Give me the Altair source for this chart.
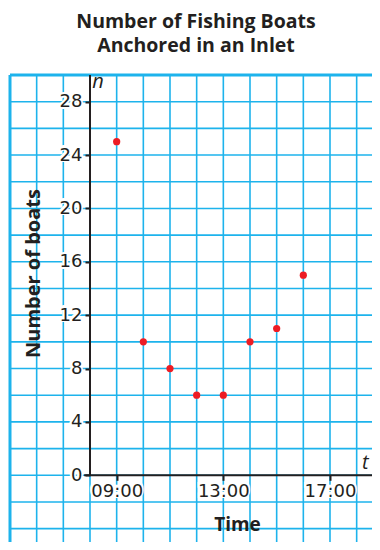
import altair as alt
import pandas as pd

# Data
hours = [9, 10, 11, 12, 13, 14, 15, 16]
boats = [25, 10, 8, 6, 6, 10, 11, 15]
x_ticks = [9, 13, 17]
y_ticks = [0, 4, 8, 12, 16, 20, 24, 28]
grid_hours = list(range(5, 19))
grid_values = list(range(-4, 31, 2))

X_DOM = [5, 18.575]
Y_DOM = [-5, 30]
W, H = 362, 467
FONT = "Open Sans"
LFONT = "DejaVu Sans"
INK = "#231F20"
GRID = "#1DB3EC"

pts = pd.DataFrame({"hour": hours, "boats": boats})
vgrid = pd.DataFrame({"hour": grid_hours})
hgrid = pd.DataFrame({"val": grid_values})
xlab = pd.DataFrame({"hour": x_ticks, "txt": [f"{h:02d}:00" for h in x_ticks]})
ylab = pd.DataFrame({"val": y_ticks, "txt": [str(v) for v in y_ticks]})

xs = alt.Scale(domain=X_DOM, nice=False, zero=False)
ys = alt.Scale(domain=Y_DOM, nice=False, zero=False)

x_off = -(0 - Y_DOM[0]) / (Y_DOM[1] - Y_DOM[0]) * H
y_off = -(8 - X_DOM[0]) / (X_DOM[1] - X_DOM[0]) * W

vlines = alt.Chart(vgrid).mark_rule(color=GRID, strokeWidth=1.6).encode(
    x=alt.X("hour:Q", scale=xs,
            axis=alt.Axis(values=x_ticks, offset=x_off, domain=False, grid=False, zindex=1,
                          tickSize=5, tickWidth=2, tickColor=INK,
                          labelExpr="(datum.value < 10 ? '0' : '') + datum.value + ':00'",
                          labelFont=LFONT, labelFontSize=18, labelColor=INK, labelPadding=2,
                          labelFlush=False,
                          title="Time", titleFont=FONT, titleFontSize=19, titleFontWeight="bold",
                          titleColor=INK, titleX=227, titleY=55, titleAlign="center",
                          titleBaseline="alphabetic"))
)
hlines = alt.Chart(hgrid).mark_rule(color=GRID, strokeWidth=1.6).encode(
    y=alt.Y("val:Q", scale=ys,
            axis=alt.Axis(values=y_ticks, offset=y_off, domain=False, grid=False, zindex=1,
                          tickSize=5, tickWidth=2, tickColor=INK,
                          labelFont=LFONT, labelFontSize=18, labelColor=INK, labelPadding=3,
                          labelFlush=False,
                          title="Number of boats", titleFont=FONT, titleFontSize=20,
                          titleFontWeight="bold", titleColor=INK, titleX=-57, titleY=198,
                          titleAngle=270, titleAlign="center", titleBaseline="middle"))
)
left_border = alt.Chart().mark_rule(color=GRID, strokeWidth=3).encode(x=alt.datum(X_DOM[0], scale=xs))
top_border = alt.Chart().mark_rule(color=GRID, strokeWidth=3).encode(y=alt.datum(Y_DOM[1], scale=ys))

# white knock-outs behind tick labels (as in the printed graph paper)
yknock = alt.Chart(ylab).mark_text(font=LFONT, fontSize=18, color="white", stroke="white",
                                   strokeWidth=4, align="right", baseline="middle", dx=-8).encode(
    x=alt.datum(8, scale=xs), y=alt.Y("val:Q", scale=ys), text="txt:N")
xknock = alt.Chart(xlab).mark_text(font=LFONT, fontSize=18, color="white", stroke="white",
                                   strokeWidth=4, align="center", baseline="top", dy=7).encode(
    x=alt.X("hour:Q", scale=xs), y=alt.datum(0, scale=ys), text="txt:N")

y_axis_line = alt.Chart().mark_rule(color=INK, strokeWidth=2).encode(
    x=alt.datum(8, scale=xs), y=alt.datum(0, scale=ys), y2=alt.datum(30))
x_axis_line = alt.Chart().mark_rule(color=INK, strokeWidth=2).encode(
    y=alt.datum(0, scale=ys), x=alt.datum(7.78, scale=xs), x2=alt.datum(X_DOM[1]))

points = alt.Chart(pts).mark_circle(color="#ED1C24", size=52, opacity=1).encode(
    x=alt.X("hour:Q", scale=xs), y=alt.Y("boats:Q", scale=ys))

n_lab = alt.Chart().mark_text(text="n", font=FONT, fontSize=20, fontStyle="italic",
                              color=INK, align="left", baseline="alphabetic").encode(
    x=alt.datum(8.08, scale=xs), y=alt.datum(29.0, scale=ys))
t_lab = alt.Chart().mark_text(text="t", font=FONT, fontSize=20, fontStyle="italic",
                              color=INK, align="left", baseline="alphabetic").encode(
    x=alt.datum(18.2, scale=xs), y=alt.datum(0.45, scale=ys))

chart = alt.layer(vlines, hlines, left_border, top_border, yknock, xknock,
                  y_axis_line, x_axis_line, points, n_lab, t_lab).properties(
    width=W, height=H,
    autosize=alt.AutoSizeParams(type="none"),
    padding={"left": 2, "top": 67, "right": 0, "bottom": 0},
    title=alt.TitleParams(["Number of Fishing Boats", "Anchored in an Inlet"],
                          font=FONT, fontSize=19.5, fontWeight="bold", color=INK,
                          anchor="middle", dx=5, offset=16, lineHeight=24),
).configure_view(stroke=None)

chart.save("out.html", embed_options={"renderer": "svg", "actions": False})
